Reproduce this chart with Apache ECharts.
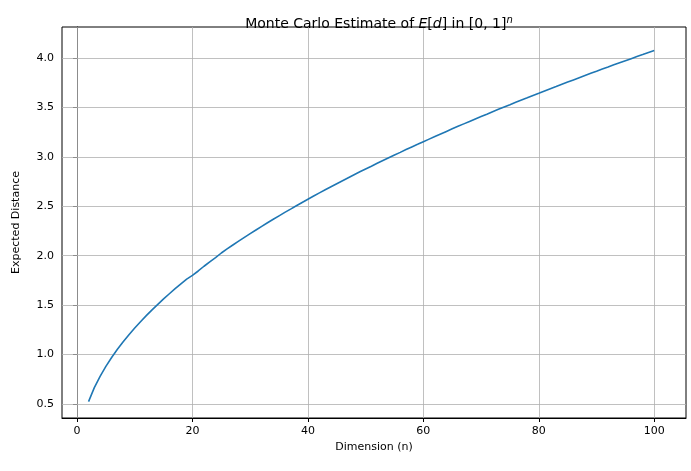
<!DOCTYPE html>
<html><head><meta charset="utf-8">
<script src="https://cdn.jsdelivr.net/npm/echarts@6/dist/echarts.min.js"></script>
<style>html,body{margin:0;padding:0;background:#fff}#c{width:691px;height:471px}</style>
</head><body><div id="c"></div>
<script>
const dims = [];
for (let n = 2; n <= 100; n++) dims.push(n);
const expectedDistance = [0.524,0.665,0.780,0.880,0.970,1.053,1.129,1.201,1.268,1.332,1.393,1.452,1.508,1.563,1.615,1.666,1.715,1.763,1.800,1.845,1.893,1.938,1.980,2.027,2.068,2.108,2.147,2.185,2.223,2.260,2.297,2.333,2.368,2.403,2.438,2.471,2.505,2.538,2.571,2.603,2.635,2.666,2.697,2.728,2.758,2.788,2.818,2.848,2.877,2.905,2.934,2.962,2.990,3.018,3.045,3.073,3.100,3.126,3.153,3.179,3.205,3.231,3.257,3.283,3.308,3.333,3.358,3.383,3.407,3.431,3.456,3.480,3.504,3.527,3.551,3.574,3.597,3.621,3.643,3.666,3.689,3.711,3.734,3.756,3.778,3.800,3.822,3.844,3.865,3.887,3.908,3.930,3.951,3.972,3.993,4.014,4.034,4.055,4.075];
const xTicks = [0,20,40,60,80,100];
const yTicks = [0.5,1.0,1.5,2.0,2.5,3.0,3.5,4.0];
const chart = echarts.init(document.getElementById('c'));
const font = 'DejaVu Sans';
const gridLine = {color:'#b0b0b0',width:0.8,type:'solid'};
chart.setOption({
  animation:false,
  title:{text:'Monte Carlo Estimate of {i|E}[{i|d}] in [0, 1]{s|n}',left:374,top:10,textAlign:'center',
    textStyle:{fontFamily:font,fontSize:14,fontWeight:'normal',color:'#000',
      rich:{i:{fontFamily:font,fontStyle:'italic',fontSize:14},s:{fontFamily:font,fontStyle:'italic',fontSize:10,verticalAlign:'top',padding:[0,0,8,0]}}}},
  grid:{left:62,right:5,top:27,bottom:53,show:true,borderColor:'#000',borderWidth:1,backgroundColor:'transparent'},
  xAxis:{type:'value',min:-2.6,max:105.5,name:'Dimension (n)',nameLocation:'middle',nameGap:24,
    nameTextStyle:{fontFamily:font,fontSize:11,color:'#000'},
    axisLine:{onZero:false,lineStyle:{color:'#000'}},
    axisTick:{customValues:xTicks,length:4,lineStyle:{color:'#000'}},
    axisLabel:{customValues:xTicks,fontFamily:font,fontSize:11,color:'#000'},
    splitLine:{show:false}},
  yAxis:{type:'value',min:0.358,max:4.313,name:'Expected Distance',nameLocation:'middle',nameGap:40,
    nameTextStyle:{fontFamily:font,fontSize:11,color:'#000'},
    axisLine:{show:true,lineStyle:{color:'#000'}},
    axisTick:{show:true,customValues:yTicks,length:4,lineStyle:{color:'#000'}},
    axisLabel:{customValues:yTicks,fontFamily:font,fontSize:11,color:'#000',formatter:v=>v.toFixed(1)},
    splitLine:{show:false}},
  series:[{type:'line',data:dims.map((d,i)=>[d,expectedDistance[i]]),showSymbol:false,z:3,
    lineStyle:{color:'#1f77b4',width:1.6},
    markLine:{silent:true,symbol:'none',label:{show:false},lineStyle:gridLine,z:1,
      data:[...xTicks.map(v=>({xAxis:v})),...yTicks.map(v=>({yAxis:v}))]}}]
});
</script></body></html>
